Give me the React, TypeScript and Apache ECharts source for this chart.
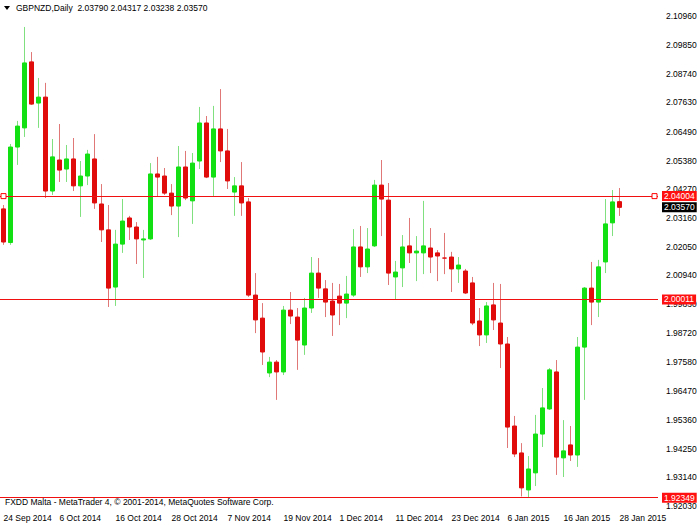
import React, { useEffect, useRef } from 'react';
import * as echarts from 'echarts';

const headerText = 'GBPNZD,Daily  2.03790 2.04317 2.03238 2.03570';
const footerText = 'FXDD Malta - MetaTrader 4, \u00A9 2001-2014, MetaQuotes Software Corp.';

// Daily bars, 24 Sep 2014 .. 28 Jan 2015
const opens = [
  2.0351, 2.0221, 2.059, 2.0664, 2.0919, 2.076, 2.0783, 2.042, 2.054, 2.0505,
  2.0544, 2.044, 2.0478, 2.0544, 2.037, 2.027, 2.0049, 2.0215, 2.0316, 2.0281,
  2.0231, 2.0235, 2.0486, 2.0478, 2.0412, 2.0362, 2.0513, 2.0382, 2.0536, 2.0683,
  2.0474, 2.066, 2.0575, 2.0416, 2.044, 2.0378, 2.0018, 1.9929, 1.9717, 1.9759,
  1.9721, 1.996, 1.9933, 1.9825, 1.9968, 2.0103, 2.0042, 1.9995, 2.0014, 1.9987,
  2.0018, 2.0204, 2.0127, 2.0208, 2.0443, 2.0385, 2.0088, 2.0123, 2.0208, 2.0181,
  2.0181, 2.02, 2.0181, 2.0161, 2.0165, 2.0119, 2.0111, 2.0065, 1.9918, 1.9864,
  1.998, 1.991, 1.9829, 1.9512, 1.9408, 1.9265, 1.9331, 1.9481, 1.9578, 1.9721,
  1.9389, 1.9439, 1.94, 1.9817, 2.0045, 1.9991, 2.0146, 2.0297, 2.0379,
];
const highs = [
  2.0366, 2.0602, 2.0691, 2.1054, 2.0957, 2.0857, 2.0838, 2.0621, 2.0679, 2.0598,
  2.0625, 2.0536, 2.0579, 2.064, 2.0447, 2.0366, 2.027, 2.0389, 2.0324, 2.03,
  2.027, 2.0528, 2.0552, 2.0509, 2.0447, 2.0594, 2.0575, 2.0567, 2.0745, 2.071,
  2.0749, 2.0814, 2.066, 2.0474, 2.0532, 2.0393, 2.0103, 1.9987, 1.9779, 1.9767,
  1.9976, 2.003, 1.9968, 2.0007, 2.0165, 2.0161, 2.0076, 2.0065, 2.0061, 2.0092,
  2.0273, 2.0285, 2.0277, 2.0463, 2.054, 2.0451, 2.015, 2.025, 2.0316, 2.0246,
  2.0382, 2.0277, 2.0192, 2.0258, 2.0185, 2.0165, 2.0119, 2.0088, 1.9968, 1.9991,
  2.0065, 2.0061, 1.9856, 1.9551, 1.9446, 1.9396, 1.9555, 1.9659, 1.9736, 1.9767,
  1.9535, 1.9512, 1.9856, 2.0049, 2.0146, 2.0154, 2.0389, 2.0424, 2.04317,
];
const lows = [
  2.0212, 2.0212, 2.0521, 2.0629, 2.0753, 2.0664, 2.0393, 2.0405, 2.0455, 2.0455,
  2.042, 2.032, 2.0443, 2.0351, 2.0223, 1.9972, 1.9976, 2.0181, 2.0231, 2.0138,
  2.0084, 2.0231, 2.0397, 2.0405, 2.0327, 2.0242, 2.0385, 2.0293, 2.0505, 2.047,
  2.0401, 2.0532, 2.0428, 2.0324, 2.0324, 2.0011, 1.9871, 1.9748, 1.9701, 1.9613,
  1.9709, 1.9906, 1.9729, 1.9787, 1.9949, 2.0007, 1.9933, 1.986, 1.9902, 1.9929,
  2.0011, 2.0088, 2.0103, 2.0204, 2.0246, 2.0057, 1.9999, 2.0049, 2.0142, 2.0072,
  2.0099, 2.0103, 2.0072, 2.0099, 2.003, 2.0065, 2.0022, 1.9902, 1.9821, 1.9833,
  1.9883, 1.9736, 1.9427, 1.9392, 1.924, 1.92349, 1.928, 1.9431, 1.9574, 1.9323,
  1.9315, 1.9377, 1.9354, 1.9613, 1.9902, 1.9933, 2.0103, 2.0246, 2.03238,
];
const closes = [
  2.0223, 2.059, 2.0671, 2.0915, 2.0756, 2.0783, 2.042, 2.0552, 2.0501, 2.0544,
  2.044, 2.0478, 2.0563, 2.0374, 2.027, 2.0045, 2.0215, 2.0304, 2.0281, 2.0235,
  2.0235, 2.0486, 2.0474, 2.0412, 2.0362, 2.0513, 2.0393, 2.0528, 2.0683, 2.0474,
  2.066, 2.0575, 2.0459, 2.044, 2.0374, 2.0018, 1.9922, 1.9798, 1.9759, 1.9721,
  1.996, 1.9937, 1.9844, 1.9968, 2.0103, 2.0045, 1.9991, 1.9941, 1.9987, 2.0022,
  2.0204, 2.0127, 2.0196, 2.0443, 2.0389, 2.0103, 2.0107, 2.0204, 2.0181, 2.0188,
  2.0208, 2.0165, 2.0169, 2.0161, 2.0119, 2.0134, 2.0026, 1.991, 1.9864, 1.9976,
  1.9922, 1.9829, 1.9508, 1.9404, 1.9273, 1.9346, 1.9481, 1.9582, 1.9729, 1.9392,
  1.9416, 1.94, 1.9817, 2.0045, 1.9991, 2.0127, 2.0293, 2.0378, 2.0357,
];

const dateLabels = [
  '24 Sep 2014', '6 Oct 2014', '16 Oct 2014', '28 Oct 2014', '7 Nov 2014', '19 Nov 2014',
  '1 Dec 2014', '11 Dec 2014', '23 Dec 2014', '6 Jan 2015', '16 Jan 2015', '28 Jan 2015',
];
const priceTicks = [
  2.1096, 2.0985, 2.0874, 2.0763, 2.0649, 2.0538, 2.0427, 2.0316, 2.0205, 2.0094,
  1.9983, 1.9872, 1.9758, 1.9647, 1.9536, 1.9425, 1.9314, 1.9203,
];
const levelLines = [2.04004, 2.00011, 1.92349];
const currentPrice = 2.0357;

const BAR_SLOTS = 94; // visible bar slots in the window
const LABEL_STEP = 8;
const FONT = '"Liberation Sans", Arial, sans-serif';
const FS = 8.5;
const UP = '#12e012';
const DOWN = '#e00c0c';
const UP_WICK = '#80e080';
const DOWN_WICK = '#e07878';
const LEVEL = '#f01010';

export default function App() {
  const ref = useRef<HTMLDivElement>(null);
  useEffect(() => {
    if (!ref.current) return;
    const chart = echarts.init(ref.current, undefined, { renderer: 'svg' });
    const slots = Array.from({ length: BAR_SLOTS }, (_, i) => 'b' + i);
    const full = opens.map((o, i) => [o, closes[i], lows[i], highs[i]]);
    const bodies = opens.map((o, i) => [
      o,
      closes[i],
      Math.min(o, closes[i]),
      Math.max(o, closes[i]),
    ]);
    const maxY = 1.9203 + 506 / 2588;
    const minY = 1.9203 - 5 / 2588;
    const labelBase = {
      show: true,
      position: 'end',
      distance: 4,
      fontSize: FS,
      fontFamily: FONT,
      padding: [1, 2, 0, 2],
      lineHeight: 9,
      color: '#ffffff',
    };

    chart.setOption({
      animation: false,
      backgroundColor: '#ffffff',
      grid: { left: 0, right: 42, top: 0, bottom: 14, containLabel: false },
      xAxis: {
        type: 'category',
        data: slots,
        boundaryGap: true,
        axisLine: { show: false },
        axisTick: { show: false },
        splitLine: { show: false },
        axisLabel: {
          interval: (i: number) => i % LABEL_STEP === 0 && i / LABEL_STEP < dateLabels.length,
          formatter: (_v: string, i: number) => dateLabels[i / LABEL_STEP] ?? '',
          align: 'left',
          margin: 2,
          fontSize: FS,
          fontFamily: FONT,
          color: '#000000',
        },
      },
      yAxis: {
        type: 'value',
        position: 'right',
        min: minY,
        max: maxY,
        scale: true,
        axisLine: { show: false },
        axisTick: { show: false },
        splitLine: { show: false },
        axisLabel: {
          customValues: priceTicks,
          formatter: (v: number) => v.toFixed(5),
          margin: 8,
          fontSize: FS,
          fontFamily: FONT,
          color: '#000000',
        },
      },
      series: [
        {
          name: 'wicks',
          type: 'candlestick',
          data: full,
          barWidth: 1,
          silent: true,
          z: 2,
          itemStyle: {
            color: UP_WICK,
            color0: DOWN_WICK,
            borderColor: UP_WICK,
            borderColor0: DOWN_WICK,
            borderWidth: 1,
          },
          markLine: {
            silent: true,
            symbol: 'none',
            precision: 5,
            z: 6,
            lineStyle: { color: 'rgba(255,255,255,0)', width: 1, type: 'solid' },
            label: {
              ...labelBase,
              backgroundColor: '#000000',
              formatter: (p: any) => Number(p.value).toFixed(5),
            },
            data: [{ yAxis: currentPrice }],
          },
        },
        {
          name: 'bodies',
          type: 'candlestick',
          data: bodies,
          barWidth: 4,
          silent: true,
          z: 3,
          itemStyle: {
            color: UP,
            color0: DOWN,
            borderColor: UP,
            borderColor0: DOWN,
            borderWidth: 1,
          },
          markLine: {
            silent: true,
            symbol: 'none',
            precision: 5,
            z: 5,
            lineStyle: { color: LEVEL, width: 1, type: 'solid', opacity: 1 },
            label: {
              ...labelBase,
              backgroundColor: '#ff1010',
              formatter: (p: any) => Number(p.value).toFixed(5),
            },
            data: levelLines.map((v) => ({ yAxis: v })),
          },
          markPoint: {
            silent: true,
            symbol: 'rect',
            symbolSize: 5,
            itemStyle: { color: '#ffffff', borderColor: '#ff0000', borderWidth: 1 },
            label: { show: false },
            data: [
              { coord: [0.1, levelLines[0]] },
              { coord: [93.4, levelLines[0]] },
            ],
          },
        },
      ],
      graphic: [
        {
          type: 'polygon',
          shape: { points: [[4, 6], [10, 6], [7, 10]] },
          style: { fill: '#000000' },
        },
        {
          type: 'text',
          x: 16,
          y: 8,
          style: {
            text: headerText,
            fontSize: FS,
            fontFamily: FONT,
            fill: '#000000',
            verticalAlign: 'middle',
          },
        },
        {
          type: 'text',
          x: 5,
          y: 502,
          style: {
            text: footerText,
            fontSize: FS,
            fontFamily: FONT,
            fill: '#000000',
            verticalAlign: 'middle',
          },
        },
      ],
    });
    return () => chart.dispose();
  }, []);
  return (
    <div style={{ position: 'fixed', left: 0, top: 0, width: 700, height: 525, background: '#fff' }}>
      <div ref={ref} style={{ width: 700, height: 525 }} />
    </div>
  );
}
